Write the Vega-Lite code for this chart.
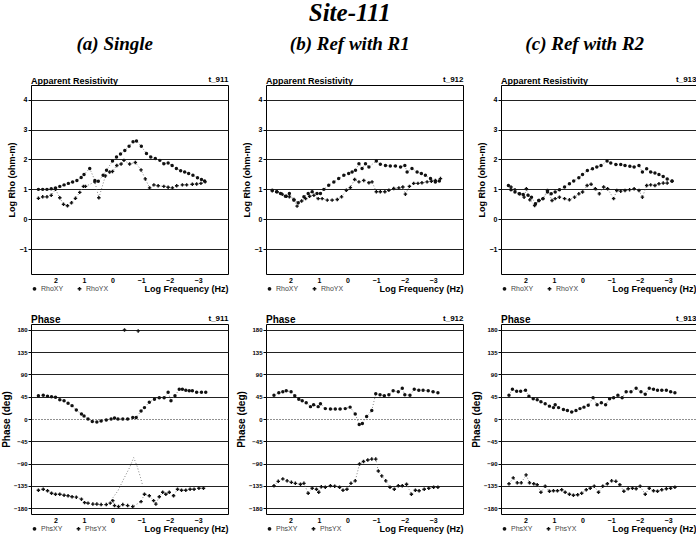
{
  "$schema": "https://vega.github.io/schema/vega-lite/v6.json",
  "padding": {"left": 0, "top": 0, "right": 0, "bottom": 0},
  "title": {"text": "Site-111", "font": "Liberation Serif", "fontSize": 25, "fontStyle": "italic", "fontWeight": "bold", "anchor": "middle", "offset": 9, "color": "#000"},
  "datasets": {
    "a_rho": [
      {"series":"RhoXY","f":2.6,"v":1.0},{"series":"RhoXY","f":2.45,"v":1.0},{"series":"RhoXY","f":2.3,"v":1.0},{"series":"RhoXY","f":2.15,"v":1.02},{"series":"RhoXY","f":2.0,"v":1.05},{"series":"RhoXY","f":1.85,"v":1.1},{"series":"RhoXY","f":1.7,"v":1.15},{"series":"RhoXY","f":1.55,"v":1.2},{"series":"RhoXY","f":1.4,"v":1.25},{"series":"RhoXY","f":1.25,"v":1.3},{"series":"RhoXY","f":1.1,"v":1.4},{"series":"RhoXY","f":1.0,"v":1.5},{"series":"RhoXY","f":0.8,"v":1.7},{"series":"RhoXY","f":0.62,"v":1.3},{"series":"RhoXY","f":0.5,"v":1.27},{"series":"RhoXY","f":0.33,"v":1.47},{"series":"RhoXY","f":0.21,"v":1.64},{"series":"RhoXY","f":0.0,"v":1.95},{"series":"RhoXY","f":-0.14,"v":2.08},{"series":"RhoXY","f":-0.28,"v":2.18},{"series":"RhoXY","f":-0.43,"v":2.3},{"series":"RhoXY","f":-0.58,"v":2.44},{"series":"RhoXY","f":-0.72,"v":2.59},{"series":"RhoXY","f":-0.84,"v":2.62},{"series":"RhoXY","f":-1.01,"v":2.44},{"series":"RhoXY","f":-1.19,"v":2.2},{"series":"RhoXY","f":-1.34,"v":2.08},{"series":"RhoXY","f":-1.5,"v":2.03},{"series":"RhoXY","f":-1.66,"v":1.97},{"series":"RhoXY","f":-1.8,"v":1.86},{"series":"RhoXY","f":-1.95,"v":1.88},{"series":"RhoXY","f":-2.09,"v":1.8},{"series":"RhoXY","f":-2.24,"v":1.7},{"series":"RhoXY","f":-2.39,"v":1.62},{"series":"RhoXY","f":-2.53,"v":1.58},{"series":"RhoXY","f":-2.67,"v":1.53},{"series":"RhoXY","f":-2.82,"v":1.47},{"series":"RhoXY","f":-2.98,"v":1.39},{"series":"RhoXY","f":-3.12,"v":1.33},{"series":"RhoXY","f":-3.23,"v":1.28},
      {"series":"RhoYX","f":2.6,"v":0.7},{"series":"RhoYX","f":2.45,"v":0.75},{"series":"RhoYX","f":2.3,"v":0.75},{"series":"RhoYX","f":2.15,"v":0.8},{"series":"RhoYX","f":2.0,"v":1.0},{"series":"RhoYX","f":1.85,"v":0.72},{"series":"RhoYX","f":1.72,"v":0.5},{"series":"RhoYX","f":1.58,"v":0.45},{"series":"RhoYX","f":1.44,"v":0.55},{"series":"RhoYX","f":1.3,"v":0.7},{"series":"RhoYX","f":1.15,"v":0.9},{"series":"RhoYX","f":1.02,"v":1.1},{"series":"RhoYX","f":0.95,"v":1.1},{"series":"RhoYX","f":0.62,"v":1.25},{"series":"RhoYX","f":0.48,"v":0.72},{"series":"RhoYX","f":0.25,"v":1.45},{"series":"RhoYX","f":0.1,"v":1.58},{"series":"RhoYX","f":0.0,"v":1.6},{"series":"RhoYX","f":-0.15,"v":1.8},{"series":"RhoYX","f":-0.3,"v":1.85},{"series":"RhoYX","f":-0.4,"v":1.97},{"series":"RhoYX","f":-0.6,"v":1.85},{"series":"RhoYX","f":-0.8,"v":1.9},{"series":"RhoYX","f":-1.0,"v":1.65},{"series":"RhoYX","f":-1.15,"v":1.35},{"series":"RhoYX","f":-1.3,"v":1.05},{"series":"RhoYX","f":-1.45,"v":1.15},{"series":"RhoYX","f":-1.6,"v":1.12},{"series":"RhoYX","f":-1.8,"v":1.1},{"series":"RhoYX","f":-1.95,"v":1.07},{"series":"RhoYX","f":-2.1,"v":1.05},{"series":"RhoYX","f":-2.25,"v":1.12},{"series":"RhoYX","f":-2.45,"v":1.15},{"series":"RhoYX","f":-2.6,"v":1.15},{"series":"RhoYX","f":-2.8,"v":1.17},{"series":"RhoYX","f":-2.95,"v":1.18},{"series":"RhoYX","f":-3.1,"v":1.2},{"series":"RhoYX","f":-3.25,"v":1.25}
    ],
    "a_phs": [
      {"series":"PhsXY","f":2.6,"v":47},{"series":"PhsXY","f":2.43,"v":48},{"series":"PhsXY","f":2.28,"v":46},{"series":"PhsXY","f":2.14,"v":45},{"series":"PhsXY","f":2.0,"v":44},{"series":"PhsXY","f":1.85,"v":39},{"series":"PhsXY","f":1.7,"v":37},{"series":"PhsXY","f":1.56,"v":32},{"series":"PhsXY","f":1.42,"v":27},{"series":"PhsXY","f":1.27,"v":18},{"series":"PhsXY","f":1.09,"v":10},{"series":"PhsXY","f":1.0,"v":6},{"series":"PhsXY","f":0.86,"v":0},{"series":"PhsXY","f":0.71,"v":-5},{"series":"PhsXY","f":0.55,"v":-6},{"series":"PhsXY","f":0.4,"v":-4},{"series":"PhsXY","f":0.22,"v":-2},{"series":"PhsXY","f":0.05,"v":0},{"series":"PhsXY","f":-0.07,"v":2},{"series":"PhsXY","f":-0.19,"v":0},{"series":"PhsXY","f":-0.36,"v":0},{"series":"PhsXY","f":-0.53,"v":0},{"series":"PhsXY","f":-0.71,"v":3},{"series":"PhsXY","f":-0.83,"v":3},{"series":"PhsXY","f":-1.0,"v":16},{"series":"PhsXY","f":-1.12,"v":23},{"series":"PhsXY","f":-1.29,"v":34},{"series":"PhsXY","f":-1.47,"v":40},{"series":"PhsXY","f":-1.64,"v":43},{"series":"PhsXY","f":-1.81,"v":43},{"series":"PhsXY","f":-1.95,"v":54},{"series":"PhsXY","f":-2.05,"v":37},{"series":"PhsXY","f":-2.19,"v":47},{"series":"PhsXY","f":-2.34,"v":60},{"series":"PhsXY","f":-2.45,"v":60},{"series":"PhsXY","f":-2.57,"v":58},{"series":"PhsXY","f":-2.69,"v":57},{"series":"PhsXY","f":-2.8,"v":57},{"series":"PhsXY","f":-2.95,"v":54},{"series":"PhsXY","f":-3.12,"v":54},{"series":"PhsXY","f":-3.27,"v":54},
      {"series":"PhsYX","f":2.6,"v":-144},{"series":"PhsYX","f":2.43,"v":-142},{"series":"PhsYX","f":2.28,"v":-145},{"series":"PhsYX","f":2.14,"v":-150},{"series":"PhsYX","f":2.0,"v":-152},{"series":"PhsYX","f":1.85,"v":-152},{"series":"PhsYX","f":1.7,"v":-154},{"series":"PhsYX","f":1.56,"v":-155},{"series":"PhsYX","f":1.42,"v":-157},{"series":"PhsYX","f":1.27,"v":-158},{"series":"PhsYX","f":1.09,"v":-162},{"series":"PhsYX","f":0.98,"v":-169},{"series":"PhsYX","f":0.86,"v":-170},{"series":"PhsYX","f":0.69,"v":-172},{"series":"PhsYX","f":0.55,"v":-172},{"series":"PhsYX","f":0.4,"v":-173},{"series":"PhsYX","f":0.22,"v":-173},{"series":"PhsYX","f":0.08,"v":-170},{"series":"PhsYX","f":-0.01,"v":-165},{"series":"PhsYX","f":-0.07,"v":-175},{"series":"PhsYX","f":-0.21,"v":-177},{"series":"PhsYX","f":-0.36,"v":-173},{"series":"PhsYX","f":-0.53,"v":-175},{"series":"PhsYX","f":-0.71,"v":-177},{"series":"PhsYX","f":-1.0,"v":-167},{"series":"PhsYX","f":-1.12,"v":-152},{"series":"PhsYX","f":-1.29,"v":-155},{"series":"PhsYX","f":-1.44,"v":-165},{"series":"PhsYX","f":-1.52,"v":-172},{"series":"PhsYX","f":-1.64,"v":-157},{"series":"PhsYX","f":-1.76,"v":-148},{"series":"PhsYX","f":-1.87,"v":-152},{"series":"PhsYX","f":-1.99,"v":-148},{"series":"PhsYX","f":-2.14,"v":-155},{"series":"PhsYX","f":-2.28,"v":-142},{"series":"PhsYX","f":-2.42,"v":-144},{"series":"PhsYX","f":-2.57,"v":-144},{"series":"PhsYX","f":-2.72,"v":-142},{"series":"PhsYX","f":-2.86,"v":-142},{"series":"PhsYX","f":-3.03,"v":-140},{"series":"PhsYX","f":-3.19,"v":-140},
      {"series":"PhsYX2","f":-0.42,"v":180},{"series":"PhsYX2","f":-0.9,"v":178},
      {"series":"fit","f":0.05,"v":-164},{"series":"fit","f":-0.19,"v":-145},{"series":"fit","f":-0.42,"v":-118},{"series":"fit","f":-0.6,"v":-98},{"series":"fit","f":-0.74,"v":-78},{"series":"fit","f":-0.86,"v":-95},{"series":"fit","f":-0.98,"v":-118},{"series":"fit","f":-1.06,"v":-135}
    ],
    "b_rho": [
      {"series":"RhoXY","f":2.64,"v":0.97},{"series":"RhoXY","f":2.49,"v":0.92},{"series":"RhoXY","f":2.35,"v":0.86},{"series":"RhoXY","f":2.18,"v":0.77},{"series":"RhoXY","f":2.04,"v":0.86},{"series":"RhoXY","f":1.88,"v":0.64},{"series":"RhoXY","f":1.73,"v":0.55},{"series":"RhoXY","f":1.53,"v":0.75},{"series":"RhoXY","f":1.38,"v":0.86},{"series":"RhoXY","f":1.24,"v":0.92},{"series":"RhoXY","f":1.07,"v":0.86},{"series":"RhoXY","f":0.95,"v":0.86},{"series":"RhoXY","f":0.83,"v":1.0},{"series":"RhoXY","f":0.66,"v":1.14},{"series":"RhoXY","f":0.48,"v":1.25},{"series":"RhoXY","f":0.31,"v":1.36},{"series":"RhoXY","f":0.13,"v":1.47},{"series":"RhoXY","f":-0.04,"v":1.53},{"series":"RhoXY","f":-0.16,"v":1.58},{"series":"RhoXY","f":-0.28,"v":1.64},{"series":"RhoXY","f":-0.4,"v":1.86},{"series":"RhoXY","f":-0.51,"v":1.7},{"series":"RhoXY","f":-0.63,"v":1.86},{"series":"RhoXY","f":-0.75,"v":1.75},{"series":"RhoXY","f":-1.01,"v":1.95},{"series":"RhoXY","f":-1.15,"v":1.84},{"series":"RhoXY","f":-1.33,"v":1.8},{"series":"RhoXY","f":-1.5,"v":1.78},{"series":"RhoXY","f":-1.68,"v":1.78},{"series":"RhoXY","f":-1.86,"v":1.75},{"series":"RhoXY","f":-2.01,"v":1.8},{"series":"RhoXY","f":-2.09,"v":1.58},{"series":"RhoXY","f":-2.26,"v":1.7},{"series":"RhoXY","f":-2.44,"v":1.58},{"series":"RhoXY","f":-2.59,"v":1.53},{"series":"RhoXY","f":-2.73,"v":1.47},{"series":"RhoXY","f":-2.91,"v":1.36},{"series":"RhoXY","f":-3.08,"v":1.25},{"series":"RhoXY","f":-3.22,"v":1.28},
      {"series":"RhoYX","f":2.64,"v":0.95},{"series":"RhoYX","f":2.47,"v":0.92},{"series":"RhoYX","f":2.29,"v":0.84},{"series":"RhoYX","f":2.14,"v":0.77},{"series":"RhoYX","f":2.04,"v":0.75},{"series":"RhoYX","f":1.88,"v":0.66},{"series":"RhoYX","f":1.77,"v":0.44},{"series":"RhoYX","f":1.61,"v":0.61},{"series":"RhoYX","f":1.47,"v":0.69},{"series":"RhoYX","f":1.33,"v":0.77},{"series":"RhoYX","f":1.18,"v":0.8},{"series":"RhoYX","f":1.03,"v":0.69},{"series":"RhoYX","f":0.89,"v":0.69},{"series":"RhoYX","f":0.71,"v":0.64},{"series":"RhoYX","f":0.54,"v":0.64},{"series":"RhoYX","f":0.36,"v":0.66},{"series":"RhoYX","f":0.21,"v":0.75},{"series":"RhoYX","f":0.04,"v":0.97},{"series":"RhoYX","f":-0.1,"v":1.06},{"series":"RhoYX","f":-0.25,"v":1.33},{"series":"RhoYX","f":-0.4,"v":1.25},{"series":"RhoYX","f":-0.57,"v":1.3},{"series":"RhoYX","f":-0.75,"v":1.22},{"series":"RhoYX","f":-0.86,"v":1.25},{"series":"RhoYX","f":-1.01,"v":0.92},{"series":"RhoYX","f":-1.15,"v":0.92},{"series":"RhoYX","f":-1.31,"v":0.92},{"series":"RhoYX","f":-1.45,"v":0.97},{"series":"RhoYX","f":-1.62,"v":1.03},{"series":"RhoYX","f":-1.8,"v":1.05},{"series":"RhoYX","f":-1.94,"v":1.08},{"series":"RhoYX","f":-2.03,"v":0.84},{"series":"RhoYX","f":-2.17,"v":1.1},{"series":"RhoYX","f":-2.32,"v":1.2},{"series":"RhoYX","f":-2.47,"v":1.2},{"series":"RhoYX","f":-2.61,"v":1.22},{"series":"RhoYX","f":-2.79,"v":1.25},{"series":"RhoYX","f":-2.94,"v":1.27},{"series":"RhoYX","f":-3.08,"v":1.3},{"series":"RhoYX","f":-3.26,"v":1.36}
    ],
    "b_phs": [
      {"series":"PhsXY","f":2.58,"v":48},{"series":"PhsXY","f":2.41,"v":53},{"series":"PhsXY","f":2.27,"v":55},{"series":"PhsXY","f":2.15,"v":57},{"series":"PhsXY","f":1.98,"v":55},{"series":"PhsXY","f":1.85,"v":47},{"series":"PhsXY","f":1.71,"v":40},{"series":"PhsXY","f":1.59,"v":37},{"series":"PhsXY","f":1.45,"v":33},{"series":"PhsXY","f":1.3,"v":25},{"series":"PhsXY","f":1.19,"v":29},{"series":"PhsXY","f":1.03,"v":25},{"series":"PhsXY","f":0.95,"v":31},{"series":"PhsXY","f":0.78,"v":21},{"series":"PhsXY","f":0.6,"v":20},{"series":"PhsXY","f":0.43,"v":20},{"series":"PhsXY","f":0.26,"v":20},{"series":"PhsXY","f":0.08,"v":21},{"series":"PhsXY","f":-0.09,"v":24},{"series":"PhsXY","f":-0.27,"v":10},{"series":"PhsXY","f":-0.41,"v":-11},{"series":"PhsXY","f":-0.52,"v":-9},{"series":"PhsXY","f":-0.67,"v":5},{"series":"PhsXY","f":-0.85,"v":17},{"series":"PhsXY","f":-0.99,"v":51},{"series":"PhsXY","f":-1.14,"v":49},{"series":"PhsXY","f":-1.29,"v":47},{"series":"PhsXY","f":-1.45,"v":49},{"series":"PhsXY","f":-1.6,"v":57},{"series":"PhsXY","f":-1.78,"v":55},{"series":"PhsXY","f":-1.92,"v":62},{"series":"PhsXY","f":-2.01,"v":49},{"series":"PhsXY","f":-2.19,"v":48},{"series":"PhsXY","f":-2.34,"v":60},{"series":"PhsXY","f":-2.5,"v":58},{"series":"PhsXY","f":-2.65,"v":58},{"series":"PhsXY","f":-2.83,"v":57},{"series":"PhsXY","f":-3.0,"v":55},{"series":"PhsXY","f":-3.17,"v":53},
      {"series":"PhsYX","f":2.58,"v":-135},{"series":"PhsYX","f":2.43,"v":-126},{"series":"PhsYX","f":2.27,"v":-121},{"series":"PhsYX","f":2.12,"v":-125},{"series":"PhsYX","f":1.97,"v":-128},{"series":"PhsYX","f":1.83,"v":-130},{"series":"PhsYX","f":1.65,"v":-132},{"series":"PhsYX","f":1.53,"v":-130},{"series":"PhsYX","f":1.38,"v":-150},{"series":"PhsYX","f":1.24,"v":-140},{"series":"PhsYX","f":1.09,"v":-142},{"series":"PhsYX","f":1.01,"v":-148},{"series":"PhsYX","f":0.92,"v":-137},{"series":"PhsYX","f":0.78,"v":-138},{"series":"PhsYX","f":0.6,"v":-135},{"series":"PhsYX","f":0.45,"v":-136},{"series":"PhsYX","f":0.28,"v":-138},{"series":"PhsYX","f":0.16,"v":-144},{"series":"PhsYX","f":0.02,"v":-142},{"series":"PhsYX","f":-0.12,"v":-130},{"series":"PhsYX","f":-0.27,"v":-125},{"series":"PhsYX","f":-0.42,"v":-91},{"series":"PhsYX","f":-0.56,"v":-86},{"series":"PhsYX","f":-0.71,"v":-83},{"series":"PhsYX","f":-0.85,"v":-81},{"series":"PhsYX","f":-0.99,"v":-81},{"series":"PhsYX","f":-1.08,"v":-105},{"series":"PhsYX","f":-1.2,"v":-115},{"series":"PhsYX","f":-1.34,"v":-125},{"series":"PhsYX","f":-1.49,"v":-138},{"series":"PhsYX","f":-1.64,"v":-142},{"series":"PhsYX","f":-1.78,"v":-135},{"series":"PhsYX","f":-1.92,"v":-135},{"series":"PhsYX","f":-2.07,"v":-132},{"series":"PhsYX","f":-2.24,"v":-152},{"series":"PhsYX","f":-2.38,"v":-144},{"series":"PhsYX","f":-2.51,"v":-145},{"series":"PhsYX","f":-2.69,"v":-142},{"series":"PhsYX","f":-2.85,"v":-140},{"series":"PhsYX","f":-3.02,"v":-138},{"series":"PhsYX","f":-3.17,"v":-138}
    ],
    "c_rho": [
      {"series":"RhoXY","f":2.6,"v":1.13},{"series":"RhoXY","f":2.51,"v":0.99},{"series":"RhoXY","f":2.37,"v":0.91},{"series":"RhoXY","f":2.22,"v":0.85},{"series":"RhoXY","f":2.08,"v":0.83},{"series":"RhoXY","f":1.91,"v":0.8},{"series":"RhoXY","f":1.79,"v":0.74},{"series":"RhoXY","f":1.65,"v":0.52},{"series":"RhoXY","f":1.54,"v":0.63},{"series":"RhoXY","f":1.39,"v":0.69},{"series":"RhoXY","f":1.23,"v":0.91},{"series":"RhoXY","f":1.1,"v":0.85},{"series":"RhoXY","f":0.96,"v":0.91},{"series":"RhoXY","f":0.81,"v":0.99},{"series":"RhoXY","f":0.63,"v":1.08},{"series":"RhoXY","f":0.46,"v":1.19},{"series":"RhoXY","f":0.31,"v":1.28},{"series":"RhoXY","f":0.13,"v":1.39},{"series":"RhoXY","f":0.0,"v":1.5},{"series":"RhoXY","f":-0.17,"v":1.63},{"series":"RhoXY","f":-0.35,"v":1.69},{"series":"RhoXY","f":-0.5,"v":1.75},{"series":"RhoXY","f":-0.65,"v":1.8},{"series":"RhoXY","f":-0.86,"v":1.95},{"series":"RhoXY","f":-0.99,"v":1.88},{"series":"RhoXY","f":-1.17,"v":1.83},{"series":"RhoXY","f":-1.34,"v":1.83},{"series":"RhoXY","f":-1.49,"v":1.8},{"series":"RhoXY","f":-1.66,"v":1.77},{"series":"RhoXY","f":-1.81,"v":1.75},{"series":"RhoXY","f":-1.98,"v":1.8},{"series":"RhoXY","f":-2.1,"v":1.58},{"series":"RhoXY","f":-2.25,"v":1.69},{"series":"RhoXY","f":-2.39,"v":1.58},{"series":"RhoXY","f":-2.54,"v":1.55},{"series":"RhoXY","f":-2.68,"v":1.5},{"series":"RhoXY","f":-2.83,"v":1.43},{"series":"RhoXY","f":-2.97,"v":1.35},{"series":"RhoXY","f":-3.14,"v":1.28},
      {"series":"RhoYX","f":2.51,"v":1.08},{"series":"RhoYX","f":2.37,"v":0.99},{"series":"RhoYX","f":2.2,"v":0.85},{"series":"RhoYX","f":2.05,"v":0.74},{"series":"RhoYX","f":1.97,"v":1.02},{"series":"RhoYX","f":1.85,"v":0.65},{"series":"RhoYX","f":1.68,"v":0.46},{"series":"RhoYX","f":1.52,"v":0.63},{"series":"RhoYX","f":1.39,"v":0.69},{"series":"RhoYX","f":1.23,"v":0.96},{"series":"RhoYX","f":1.07,"v":0.63},{"series":"RhoYX","f":0.96,"v":0.69},{"series":"RhoYX","f":0.81,"v":0.74},{"series":"RhoYX","f":0.63,"v":0.69},{"series":"RhoYX","f":0.46,"v":0.65},{"series":"RhoYX","f":0.28,"v":0.74},{"series":"RhoYX","f":0.13,"v":0.85},{"series":"RhoYX","f":0.0,"v":0.91},{"series":"RhoYX","f":-0.16,"v":1.13},{"series":"RhoYX","f":-0.3,"v":1.17},{"series":"RhoYX","f":-0.45,"v":1.02},{"series":"RhoYX","f":-0.59,"v":0.85},{"series":"RhoYX","f":-0.74,"v":1.08},{"series":"RhoYX","f":-0.88,"v":1.02},{"series":"RhoYX","f":-1.09,"v":0.69},{"series":"RhoYX","f":-1.2,"v":0.96},{"series":"RhoYX","f":-1.34,"v":0.94},{"series":"RhoYX","f":-1.49,"v":0.96},{"series":"RhoYX","f":-1.65,"v":0.99},{"series":"RhoYX","f":-1.81,"v":1.02},{"series":"RhoYX","f":-1.98,"v":0.96},{"series":"RhoYX","f":-2.1,"v":0.74},{"series":"RhoYX","f":-2.25,"v":1.13},{"series":"RhoYX","f":-2.39,"v":1.15},{"series":"RhoYX","f":-2.54,"v":1.13},{"series":"RhoYX","f":-2.68,"v":1.19},{"series":"RhoYX","f":-2.83,"v":1.21},{"series":"RhoYX","f":-2.97,"v":1.21},{"series":"RhoYX","f":-3.14,"v":1.27}
    ],
    "c_phs": [
      {"series":"PhsXY","f":2.58,"v":48},{"series":"PhsXY","f":2.46,"v":60},{"series":"PhsXY","f":2.31,"v":56},{"series":"PhsXY","f":2.17,"v":56},{"series":"PhsXY","f":2.0,"v":58},{"series":"PhsXY","f":1.88,"v":46},{"series":"PhsXY","f":1.73,"v":41},{"series":"PhsXY","f":1.59,"v":39},{"series":"PhsXY","f":1.46,"v":35},{"series":"PhsXY","f":1.31,"v":31},{"series":"PhsXY","f":1.16,"v":26},{"series":"PhsXY","f":1.02,"v":23},{"series":"PhsXY","f":0.96,"v":29},{"series":"PhsXY","f":0.84,"v":23},{"series":"PhsXY","f":0.67,"v":19},{"series":"PhsXY","f":0.53,"v":17},{"series":"PhsXY","f":0.38,"v":14},{"series":"PhsXY","f":0.23,"v":17},{"series":"PhsXY","f":0.09,"v":21},{"series":"PhsXY","f":-0.05,"v":24},{"series":"PhsXY","f":-0.2,"v":28},{"series":"PhsXY","f":-0.37,"v":43},{"series":"PhsXY","f":-0.51,"v":29},{"series":"PhsXY","f":-0.66,"v":33},{"series":"PhsXY","f":-0.81,"v":29},{"series":"PhsXY","f":-0.95,"v":41},{"series":"PhsXY","f":-1.09,"v":43},{"series":"PhsXY","f":-1.24,"v":48},{"series":"PhsXY","f":-1.39,"v":43},{"series":"PhsXY","f":-1.53,"v":55},{"series":"PhsXY","f":-1.7,"v":55},{"series":"PhsXY","f":-1.88,"v":62},{"series":"PhsXY","f":-2.05,"v":55},{"series":"PhsXY","f":-2.2,"v":50},{"series":"PhsXY","f":-2.34,"v":62},{"series":"PhsXY","f":-2.49,"v":60},{"series":"PhsXY","f":-2.63,"v":58},{"series":"PhsXY","f":-2.78,"v":58},{"series":"PhsXY","f":-2.94,"v":58},{"series":"PhsXY","f":-3.09,"v":55},{"series":"PhsXY","f":-3.24,"v":53},
      {"series":"PhsYX","f":2.58,"v":-131},{"series":"PhsYX","f":2.43,"v":-119},{"series":"PhsYX","f":2.29,"v":-129},{"series":"PhsYX","f":2.15,"v":-129},{"series":"PhsYX","f":1.98,"v":-113},{"series":"PhsYX","f":1.86,"v":-129},{"series":"PhsYX","f":1.71,"v":-131},{"series":"PhsYX","f":1.59,"v":-133},{"series":"PhsYX","f":1.46,"v":-148},{"series":"PhsYX","f":1.31,"v":-136},{"series":"PhsYX","f":1.16,"v":-146},{"series":"PhsYX","f":1.02,"v":-145},{"series":"PhsYX","f":0.88,"v":-145},{"series":"PhsYX","f":0.73,"v":-143},{"series":"PhsYX","f":0.61,"v":-148},{"series":"PhsYX","f":0.46,"v":-152},{"series":"PhsYX","f":0.32,"v":-154},{"series":"PhsYX","f":0.17,"v":-153},{"series":"PhsYX","f":0.03,"v":-150},{"series":"PhsYX","f":-0.13,"v":-143},{"series":"PhsYX","f":-0.27,"v":-140},{"series":"PhsYX","f":-0.41,"v":-136},{"series":"PhsYX","f":-0.56,"v":-148},{"series":"PhsYX","f":-0.71,"v":-136},{"series":"PhsYX","f":-0.87,"v":-131},{"series":"PhsYX","f":-1.02,"v":-125},{"series":"PhsYX","f":-1.17,"v":-126},{"series":"PhsYX","f":-1.31,"v":-133},{"series":"PhsYX","f":-1.45,"v":-146},{"series":"PhsYX","f":-1.6,"v":-141},{"series":"PhsYX","f":-1.75,"v":-140},{"series":"PhsYX","f":-1.88,"v":-141},{"series":"PhsYX","f":-2.02,"v":-136},{"series":"PhsYX","f":-2.2,"v":-152},{"series":"PhsYX","f":-2.34,"v":-140},{"series":"PhsYX","f":-2.49,"v":-145},{"series":"PhsYX","f":-2.63,"v":-146},{"series":"PhsYX","f":-2.78,"v":-143},{"series":"PhsYX","f":-2.94,"v":-141},{"series":"PhsYX","f":-3.09,"v":-140},{"series":"PhsYX","f":-3.24,"v":-138}
    ]
  },
  "spacing": 6,
  "hconcat": [
    {
      "title": {"text": "(a) Single", "font": "Liberation Serif", "fontSize": 19, "fontStyle": "italic", "fontWeight": "bold", "anchor": "middle", "offset": 21, "color": "#000"},
      "spacing": 18,
      "resolve": {"scale": {"shape": "independent"}},
      "vconcat": [
        {
          "width": 197, "height": 189,
          "title": {"text": "Apparent Resistivity", "anchor": "start", "frame": "group", "offset": -11},
          "data": {"name": "a_rho"},
          "encoding": {
            "x": {"field": "f", "type": "quantitative", "scale": {"domain": [-4.05, 2.86], "reverse": true, "nice": false, "zero": false}, "axis": {"values": [2, 1, 0, -1, -2, -3], "title": "Log Frequency (Hz)", "titleX": 197, "titleAlign": "right", "titlePadding": 1, "labelPadding": 2, "tickSize": 0, "gridDash": {"condition": {"test": "datum.value === 0", "value": [1, 2]}, "value": []}}},
            "y": {"field": "v", "type": "quantitative", "scale": {"domain": [-1.83, 4.49], "nice": false, "zero": false}, "axis": {"values": [-1, 0, 1, 2, 3, 4], "title": "Log Rho (ohm-m)", "titlePadding": 3}}
          },
          "layer": [
            {"mark": {"type": "line", "strokeDash": [1, 2], "color": "#666", "strokeWidth": 0.8}, "encoding": {"x": {"field": "f", "type": "quantitative", "axis": null}, "detail": {"field": "series"}}},
            {"mark": {"type": "point", "filled": true, "size": 12, "color": "#111", "opacity": 1}, "encoding": {"shape": {"field": "series", "type": "nominal", "scale": {"domain": ["RhoXY", "RhoYX"], "range": ["circle", "cross"]}, "legend": {"title": null, "orient": "none", "legendX": 0, "legendY": 200, "direction": "horizontal"}}}},
            {"mark": {"type": "point", "opacity": 0}, "encoding": {"x": {"field": "f", "type": "quantitative", "axis": {"orient": "top", "title": "t_911", "titleX": 197, "titleAlign": "right", "labels": false, "ticks": false, "grid": false, "titlePadding": 2, "titleFontSize": 8}}}}
          ],
          "resolve": {"axis": {"x": "independent"}}
        },
        {
          "width": 197, "height": 190,
          "title": {"text": "Phase", "anchor": "start", "frame": "group", "offset": -11, "fontSize": 10},
          "data": {"name": "a_phs"},
          "encoding": {
            "x": {"field": "f", "type": "quantitative", "scale": {"domain": [-4.05, 2.86], "reverse": true, "nice": false, "zero": false}, "axis": {"values": [2, 1, 0, -1, -2, -3], "title": "Log Frequency (Hz)", "titleX": 197, "titleAlign": "right", "titlePadding": 1, "labelPadding": 2, "tickSize": 0, "gridDash": {"condition": {"test": "datum.value === 0", "value": [1, 2]}, "value": []}}},
            "y": {"field": "v", "type": "quantitative", "scale": {"domain": [-192, 192], "nice": false, "zero": false}, "axis": {"values": [-180, -135, -90, -45, 0, 45, 90, 135, 180], "title": "Phase (deg)", "titleFontSize": 10, "titlePadding": 2, "labelFontSize": 6, "gridDash": {"condition": {"test": "datum.value === 0", "value": [1, 2]}, "value": []}}}
          },
          "layer": [
            {"transform": [{"filter": "datum.series != 'PhsYX2'"}], "mark": {"type": "line", "strokeDash": [1, 2], "color": "#666", "strokeWidth": 0.8}, "encoding": {"x": {"field": "f", "type": "quantitative", "axis": null}, "detail": {"field": "series"}}},
            {"transform": [{"filter": "datum.series != 'fit'"}], "mark": {"type": "point", "filled": true, "size": 12, "color": "#111", "opacity": 1}, "encoding": {"shape": {"field": "series", "type": "nominal", "scale": {"domain": ["PhsXY", "PhsYX", "PhsYX2"], "range": ["circle", "cross", "cross"]}, "legend": {"title": null, "orient": "none", "legendX": 0, "legendY": 201, "direction": "horizontal", "values": ["PhsXY", "PhsYX"]}}}},
            {"mark": {"type": "point", "opacity": 0}, "encoding": {"x": {"field": "f", "type": "quantitative", "axis": {"orient": "top", "title": "t_911", "titleX": 197, "titleAlign": "right", "labels": false, "ticks": false, "grid": false, "titlePadding": 2, "titleFontSize": 8}}}}
          ],
          "resolve": {"axis": {"x": "independent"}}
        }
      ]
    },
    {
      "title": {"text": "(b) Ref with R1", "font": "Liberation Serif", "fontSize": 19, "fontStyle": "italic", "fontWeight": "bold", "anchor": "middle", "offset": 21, "color": "#000"},
      "spacing": 18,
      "resolve": {"scale": {"shape": "independent"}},
      "vconcat": [
        {
          "width": 197, "height": 189,
          "title": {"text": "Apparent Resistivity", "anchor": "start", "frame": "group", "offset": -11},
          "data": {"name": "b_rho"},
          "encoding": {
            "x": {"field": "f", "type": "quantitative", "scale": {"domain": [-4.05, 2.86], "reverse": true, "nice": false, "zero": false}, "axis": {"values": [2, 1, 0, -1, -2, -3], "title": "Log Frequency (Hz)", "titleX": 197, "titleAlign": "right", "titlePadding": 1, "labelPadding": 2, "tickSize": 0, "gridDash": {"condition": {"test": "datum.value === 0", "value": [1, 2]}, "value": []}}},
            "y": {"field": "v", "type": "quantitative", "scale": {"domain": [-1.83, 4.49], "nice": false, "zero": false}, "axis": {"values": [-1, 0, 1, 2, 3, 4], "title": "Log Rho (ohm-m)", "titlePadding": 3}}
          },
          "layer": [
            {"mark": {"type": "line", "strokeDash": [1, 2], "color": "#666", "strokeWidth": 0.8}, "encoding": {"x": {"field": "f", "type": "quantitative", "axis": null}, "detail": {"field": "series"}}},
            {"mark": {"type": "point", "filled": true, "size": 12, "color": "#111", "opacity": 1}, "encoding": {"shape": {"field": "series", "type": "nominal", "scale": {"domain": ["RhoXY", "RhoYX"], "range": ["circle", "cross"]}, "legend": {"title": null, "orient": "none", "legendX": 0, "legendY": 200, "direction": "horizontal"}}}},
            {"mark": {"type": "point", "opacity": 0}, "encoding": {"x": {"field": "f", "type": "quantitative", "axis": {"orient": "top", "title": "t_912", "titleX": 197, "titleAlign": "right", "labels": false, "ticks": false, "grid": false, "titlePadding": 2, "titleFontSize": 8}}}}
          ],
          "resolve": {"axis": {"x": "independent"}}
        },
        {
          "width": 197, "height": 190,
          "title": {"text": "Phase", "anchor": "start", "frame": "group", "offset": -11, "fontSize": 10},
          "data": {"name": "b_phs"},
          "encoding": {
            "x": {"field": "f", "type": "quantitative", "scale": {"domain": [-4.05, 2.86], "reverse": true, "nice": false, "zero": false}, "axis": {"values": [2, 1, 0, -1, -2, -3], "title": "Log Frequency (Hz)", "titleX": 197, "titleAlign": "right", "titlePadding": 1, "labelPadding": 2, "tickSize": 0, "gridDash": {"condition": {"test": "datum.value === 0", "value": [1, 2]}, "value": []}}},
            "y": {"field": "v", "type": "quantitative", "scale": {"domain": [-192, 192], "nice": false, "zero": false}, "axis": {"values": [-180, -135, -90, -45, 0, 45, 90, 135, 180], "title": "Phase (deg)", "titleFontSize": 10, "titlePadding": 2, "labelFontSize": 6, "gridDash": {"condition": {"test": "datum.value === 0", "value": [1, 2]}, "value": []}}}
          },
          "layer": [
            {"mark": {"type": "line", "strokeDash": [1, 2], "color": "#666", "strokeWidth": 0.8}, "encoding": {"x": {"field": "f", "type": "quantitative", "axis": null}, "detail": {"field": "series"}}},
            {"mark": {"type": "point", "filled": true, "size": 12, "color": "#111", "opacity": 1}, "encoding": {"shape": {"field": "series", "type": "nominal", "scale": {"domain": ["PhsXY", "PhsYX"], "range": ["circle", "cross"]}, "legend": {"title": null, "orient": "none", "legendX": 0, "legendY": 201, "direction": "horizontal"}}}},
            {"mark": {"type": "point", "opacity": 0}, "encoding": {"x": {"field": "f", "type": "quantitative", "axis": {"orient": "top", "title": "t_912", "titleX": 197, "titleAlign": "right", "labels": false, "ticks": false, "grid": false, "titlePadding": 2, "titleFontSize": 8}}}}
          ],
          "resolve": {"axis": {"x": "independent"}}
        }
      ]
    },
    {
      "title": {"text": "(c) Ref with R2", "font": "Liberation Serif", "fontSize": 19, "fontStyle": "italic", "fontWeight": "bold", "anchor": "middle", "offset": 21, "color": "#000"},
      "spacing": 18,
      "resolve": {"scale": {"shape": "independent"}},
      "vconcat": [
        {
          "width": 197, "height": 189,
          "title": {"text": "Apparent Resistivity", "anchor": "start", "frame": "group", "offset": -11},
          "data": {"name": "c_rho"},
          "encoding": {
            "x": {"field": "f", "type": "quantitative", "scale": {"domain": [-4.05, 2.86], "reverse": true, "nice": false, "zero": false}, "axis": {"values": [2, 1, 0, -1, -2, -3], "title": "Log Frequency (Hz)", "titleX": 195, "titleAlign": "right", "titlePadding": 1, "labelPadding": 2, "tickSize": 0, "gridDash": {"condition": {"test": "datum.value === 0", "value": [1, 2]}, "value": []}}},
            "y": {"field": "v", "type": "quantitative", "scale": {"domain": [-1.83, 4.49], "nice": false, "zero": false}, "axis": {"values": [-1, 0, 1, 2, 3, 4], "title": "Log Rho (ohm-m)", "titlePadding": 3}}
          },
          "layer": [
            {"mark": {"type": "line", "strokeDash": [1, 2], "color": "#666", "strokeWidth": 0.8}, "encoding": {"x": {"field": "f", "type": "quantitative", "axis": null}, "detail": {"field": "series"}}},
            {"mark": {"type": "point", "filled": true, "size": 12, "color": "#111", "opacity": 1}, "encoding": {"shape": {"field": "series", "type": "nominal", "scale": {"domain": ["RhoXY", "RhoYX"], "range": ["circle", "cross"]}, "legend": {"title": null, "orient": "none", "legendX": 0, "legendY": 200, "direction": "horizontal"}}}},
            {"mark": {"type": "point", "opacity": 0}, "encoding": {"x": {"field": "f", "type": "quantitative", "axis": {"orient": "top", "title": "t_913", "titleX": 195, "titleAlign": "right", "labels": false, "ticks": false, "grid": false, "titlePadding": 2, "titleFontSize": 8}}}}
          ],
          "resolve": {"axis": {"x": "independent"}}
        },
        {
          "width": 197, "height": 190,
          "title": {"text": "Phase", "anchor": "start", "frame": "group", "offset": -11, "fontSize": 10},
          "data": {"name": "c_phs"},
          "encoding": {
            "x": {"field": "f", "type": "quantitative", "scale": {"domain": [-4.05, 2.86], "reverse": true, "nice": false, "zero": false}, "axis": {"values": [2, 1, 0, -1, -2, -3], "title": "Log Frequency (Hz)", "titleX": 195, "titleAlign": "right", "titlePadding": 1, "labelPadding": 2, "tickSize": 0, "gridDash": {"condition": {"test": "datum.value === 0", "value": [1, 2]}, "value": []}}},
            "y": {"field": "v", "type": "quantitative", "scale": {"domain": [-192, 192], "nice": false, "zero": false}, "axis": {"values": [-180, -135, -90, -45, 0, 45, 90, 135, 180], "title": "Phase (deg)", "titleFontSize": 10, "titlePadding": 2, "labelFontSize": 6, "gridDash": {"condition": {"test": "datum.value === 0", "value": [1, 2]}, "value": []}}}
          },
          "layer": [
            {"mark": {"type": "line", "strokeDash": [1, 2], "color": "#666", "strokeWidth": 0.8}, "encoding": {"x": {"field": "f", "type": "quantitative", "axis": null}, "detail": {"field": "series"}}},
            {"mark": {"type": "point", "filled": true, "size": 12, "color": "#111", "opacity": 1}, "encoding": {"shape": {"field": "series", "type": "nominal", "scale": {"domain": ["PhsXY", "PhsYX"], "range": ["circle", "cross"]}, "legend": {"title": null, "orient": "none", "legendX": 0, "legendY": 201, "direction": "horizontal"}}}},
            {"mark": {"type": "point", "opacity": 0}, "encoding": {"x": {"field": "f", "type": "quantitative", "axis": {"orient": "top", "title": "t_913", "titleX": 195, "titleAlign": "right", "labels": false, "ticks": false, "grid": false, "titlePadding": 2, "titleFontSize": 8}}}}
          ],
          "resolve": {"axis": {"x": "independent"}}
        }
      ]
    }
  ],
  "config": {
    "font": "Liberation Sans",
    "view": {"stroke": "#000", "strokeWidth": 1},
    "axis": {"labelFont": "Liberation Sans", "labelFontSize": 7, "labelFontWeight": "bold", "labelColor": "#000", "titleFont": "Liberation Sans", "titleFontSize": 9, "titleFontWeight": "bold", "titleColor": "#000", "gridColor": "#222", "gridOpacity": 1, "gridWidth": 1, "tickColor": "#000", "tickSize": 3, "labelPadding": 1, "domain": false},
    "title": {"font": "Liberation Sans", "fontSize": 9, "fontWeight": "bold", "color": "#000"},
    "legend": {"labelFont": "Liberation Sans", "labelFontSize": 7, "labelColor": "#444", "symbolSize": 14, "symbolFillColor": "#111", "symbolStrokeColor": "#111", "columnPadding": 10, "labelOffset": 3, "padding": 0}
  }
}
